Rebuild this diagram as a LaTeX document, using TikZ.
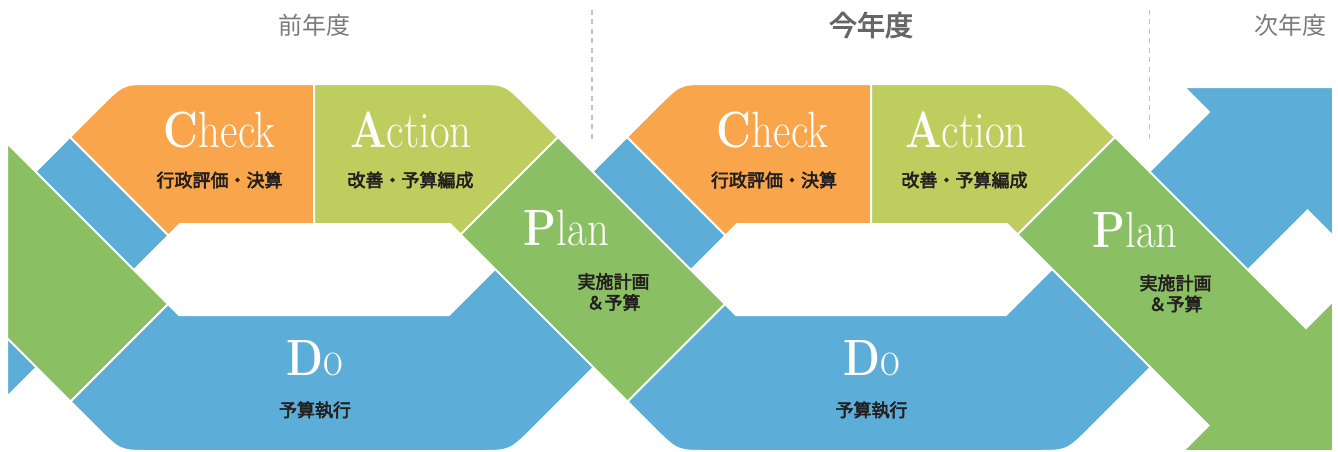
\documentclass[tikz,border=0pt]{standalone}
\usepackage{fontspec}
\newfontfamily\jpfont{Noto Sans CJK JP}
\newfontfamily\jpsemi[FakeBold=3]{Noto Sans CJK JP}
\definecolor{checkorange}{HTML}{F8A54B}
\definecolor{actionlime}{HTML}{BECE5E}
\definecolor{plangreen}{HTML}{8ABF63}
\definecolor{doblue}{HTML}{5CADD8}
\definecolor{subtext}{HTML}{231F20}
\definecolor{yeargray}{HTML}{7A7A7A}
\definecolor{yeardark}{HTML}{666666}
\definecolor{dashgray}{HTML}{C2C2C2}
\newcommand{\pdcaword}[2]{\scalebox{0.84}[1]{\fontsize{51}{51}\selectfont\textbf{#1}#2}}

\begin{document}
\begin{tikzpicture}[x=1pt,y=1pt]
    \tikzstyle{every node}+=[inner sep=0pt]
    \tikzstyle{band}=[draw=white, line width=2pt]
    \tikzstyle{word}=[text=white, anchor=base]
    \tikzstyle{sublabel}=[text=subtext, font=\jpsemi\fontsize{18}{21}\selectfont, align=center]
    \tikzstyle{yearlabel}=[text=yeargray, font=\jpfont\fontsize{24}{24}\selectfont]
    \useasboundingbox (0,0) rectangle (1338,-452);
    % years
    \draw (314,-25) node[yearlabel] (lastyear) {前年度};
    \draw (871,-25) node[yearlabel, text=yeardark, font=\jpsemi\fontsize{28}{28}\selectfont] (thisyear) {今年度};
    \draw (1290,-25) node[yearlabel] (nextyear) {次年度};
    \draw [dashgray, line width=1.6pt, dash pattern=on 5pt off 4.5pt] (592,-10) -- (592,-142);
    \draw [dashgray, line width=1.6pt, dash pattern=on 5pt off 4.5pt] (1149.5,-10) -- (1149.5,-143);
    % blue
    \filldraw [band, fill=doblue] (7,-200) -- (70,-137) -- (168.5,-235.5) -- (7,-397) -- cycle;
    \filldraw [band, fill=doblue] (179,-315) -- (168,-304) -- (70.5,-401.5) -- (97,-428) .. controls (120,-451) .. (150,-451) -- (480,-451) .. controls (510,-451) .. (533,-428) -- (725.5,-235.5) -- (627,-137) -- (449,-315) -- cycle;
    \filldraw [band, fill=doblue] (736,-315) -- (725,-304) -- (627.5,-401.5) -- (654,-428) .. controls (677,-451) .. (707,-451) -- (1037,-451) .. controls (1067,-451) .. (1090,-428) -- (1307.5,-210.5) -- (1333,-236) -- (1333,-87) -- (1184,-87) -- (1209,-112) -- (1006,-315) -- cycle;
    % green
    \filldraw [band, fill=plangreen] (7,-143) -- (168,-304) -- (70.5,-401.5) -- (7,-338) -- cycle;
    \filldraw [band, fill=plangreen] (558,-137) -- (725,-304) -- (627.5,-401.5) -- (460.5,-234.5) -- cycle;
    \filldraw [band, fill=plangreen] (1115,-137) -- (1306,-328) -- (1333,-301) -- (1333,-451) -- (1183,-451) -- (1208.5,-425.5) -- (1017.5,-234.5) -- cycle;
    % orange and lime
    \filldraw [band, fill=checkorange] (70,-137) -- (100,-107) .. controls (123,-84) .. (150,-84) -- (314,-84) -- (314,-224) -- (180,-224) -- (168.5,-235.5) -- cycle;
    \filldraw [band, fill=checkorange] (627,-137) -- (657,-107) .. controls (680,-84) .. (707,-84) -- (871,-84) -- (871,-224) -- (737,-224) -- (725.5,-235.5) -- cycle;
    \filldraw [band, fill=actionlime] (314,-84) -- (478,-84) .. controls (505,-84) .. (528,-107) -- (558,-137) -- (460.5,-234.5) -- (450,-224) -- (314,-224) -- cycle;
    \filldraw [band, fill=actionlime] (871,-84) -- (1035,-84) .. controls (1062,-84) .. (1085,-107) -- (1115,-137) -- (1017.5,-234.5) -- (1007,-224) -- (871,-224) -- cycle;
    % labels
    \draw (219.5,-147) node[word] (check1) {\pdcaword{C}{heck}};
    \draw (219.5,-180) node[sublabel] (checksub1) {行政評価・決算};
    \draw (411,-147) node[word] (action1) {\pdcaword{A}{ction}};
    \draw (410.5,-180) node[sublabel] (actionsub1) {改善・予算編成};
    \draw (566.5,-245) node[word] (plan1) {\pdcaword{P}{lan}};
    \draw (613.5,-292) node[sublabel] (plansub1) {実施計画\\＆予算};
    \draw (314.5,-375) node[word] (do1) {\pdcaword{D}{o}};
    \draw (315,-410) node[sublabel] (dosub1) {予算執行};
    \draw (772.5,-147) node[word] (check2) {\pdcaword{C}{heck}};
    \draw (774,-180) node[sublabel] (checksub2) {行政評価・決算};
    \draw (966,-147) node[word] (action2) {\pdcaword{A}{ction}};
    \draw (964.5,-180) node[sublabel] (actionsub2) {改善・予算編成};
    \draw (1135,-247) node[word] (plan2) {\pdcaword{P}{lan}};
    \draw (1175.5,-293.5) node[sublabel] (plansub2) {実施計画\\＆予算};
    \draw (871.5,-375) node[word] (do2) {\pdcaword{D}{o}};
    \draw (871.5,-410) node[sublabel] (dosub2) {予算執行};
\end{tikzpicture}
\end{document}
